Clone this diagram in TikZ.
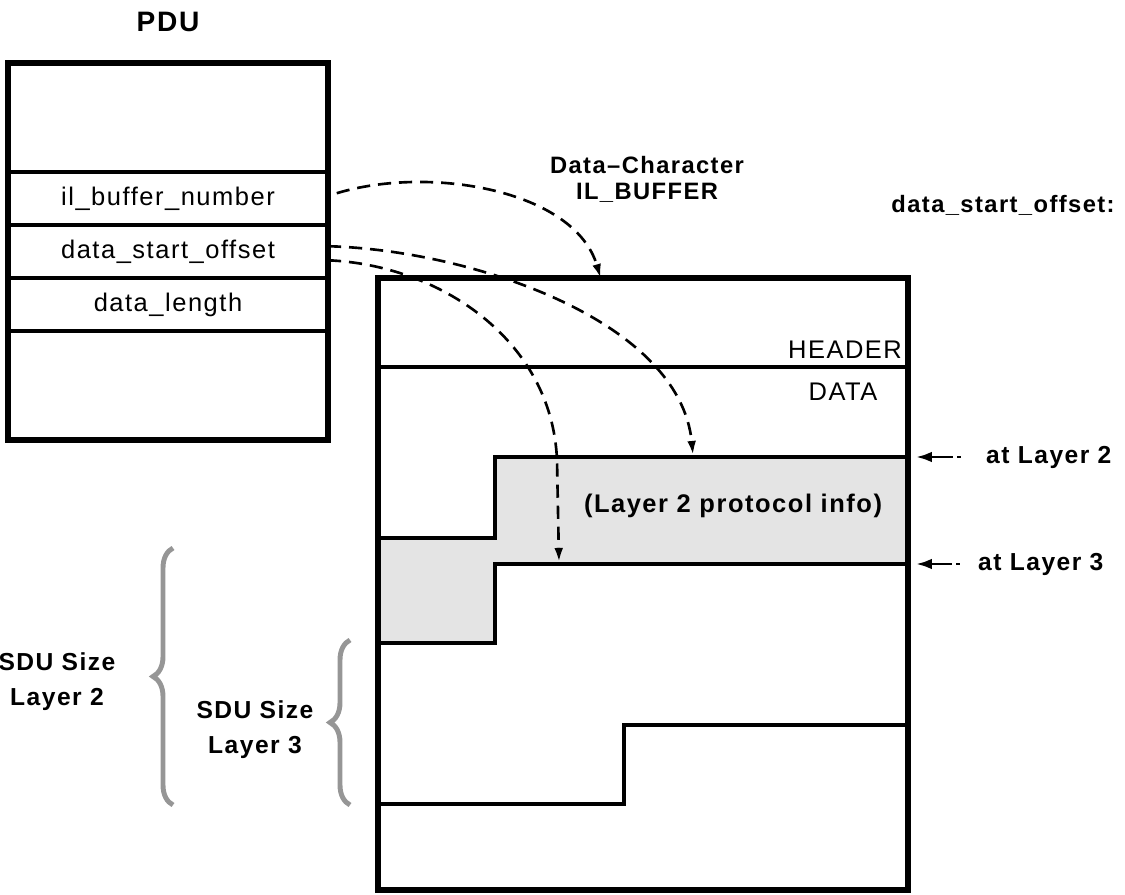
\documentclass[tikz,border=0pt]{standalone}
\usepackage{fontspec}
\setmainfont{Liberation Sans}[LetterSpace=6]
\usetikzlibrary{arrows.meta,positioning,calc,decorations.pathreplacing}
\definecolor{stipple}{HTML}{E4E4E4}
\definecolor{bracegray}{HTML}{969696}

\begin{document}
\begin{tikzpicture}[
  x=0.02cm, y=-0.02cm,
  >={Latex[length=8pt,width=5pt]},
  frame/.style={draw, line width=3.5pt, inner sep=0pt, outer sep=0pt},
  row/.style={draw, line width=2.3pt, minimum width=6.4cm, minimum height=1.06cm, inner sep=0pt, outer sep=0pt, font=\fontsize{14.5}{16}\selectfont},
  stepline/.style={line width=2.3pt},
  lbl/.style={font=\fontsize{14}{20}\selectfont\bfseries, align=center},
  plain/.style={font=\fontsize{14.5}{16}\selectfont},
  link/.style={->, dash pattern=on 7.5pt off 4.5pt, line width=1.5pt},
  tick/.style={-{Latex[length=9pt,width=6pt]}, dash pattern=on 2pt off 2.5pt on 20pt, line width=1.6pt, shorten <=11pt},
  sdubrace/.style={draw=bracegray, line width=2.8pt, decorate, decoration={brace, amplitude=0.4cm}}
]
\useasboundingbox (0,0) rectangle (1125,895);

% PDU
\node[font=\fontsize{16}{18}\selectfont\bfseries] (pdutitle) at (168,22) {PDU};
\node[row] (bufnum) at (168,198.5) {il\_buffer\_number};
\node[row, below=0pt of bufnum] (startoff) {data\_start\_offset};
\node[row, below=0pt of startoff] (datalen) {data\_length};
\node[frame, minimum width=6.4cm, minimum height=7.54cm] (pdu) at (168,251.5) {};

% IL_BUFFER
\fill[stipple] (378,538) -- (495,538) -- (495,457) -- (908,457) -- (908,564)
  -- (495,564) -- (495,643) -- (378,643) -- cycle;
\draw[stepline] (378,367) -- (908,367);
\draw[stepline] (378,538) -- (495,538) -- (495,457) -- (908,457);
\draw[stepline] (378,643) -- (495,643) -- (495,564) -- (908,564);
\draw[stepline] (378,804) -- (624,804) -- (624,725) -- (908,725);
\node[frame, minimum width=10.6cm, minimum height=12.24cm] (ilbuf) at (643,584) {};

\node[plain] (hdr) at (845,350) {HEADER};
\node[plain] (dat) at (843,392) {DATA};
\node[lbl, font=\fontsize{13.5}{14.8}\selectfont\bfseries] (buftitle) at (647,179) {Data--Character\\IL\_BUFFER};
\node[lbl, font=\fontsize{13.5}{14}\selectfont\bfseries] (offlabel) at (1003,205) {data\_start\_offset:};
\node[lbl, font=\fontsize{14.5}{16}\selectfont\bfseries] (proto) at (733,506) {(Layer 2 protocol info)};

% offsets at the right
\node[lbl, anchor=west] (at2) at (980,457) {at Layer 2};
\node[lbl, anchor=west] (at3) at (972,564) {at Layer 3};
\coordinate (edge2) at (916,457);
\coordinate (edge3) at (916,564);
\draw[tick] (at2) -- (edge2);
\draw[tick, shorten <=7pt] (at3) -- (edge3);

% SDU sizes
\node[lbl] (sdu2) at (57,682) {SDU Size\\Layer 2};
\node[lbl] (sdu3) at (255,730) {SDU Size\\Layer 3};
\draw[sdubrace] (173,805) -- (173,548);
\draw[sdubrace] (350,805) -- (350,640);

% pointers from the PDU
\coordinate (hit1) at ($(ilbuf.north west)!0.42!(ilbuf.north east)$);
\coordinate (hit2) at (693,455);
\coordinate (hit3) at (559,562);
\draw[link] ([xshift=5pt,yshift=3pt]bufnum.east) .. controls (430,165) and (575,190) .. (hit1);
\draw[link] ([yshift=3pt]startoff.east) .. controls (470,250) and (680,320) .. (hit2);
\draw[link] ([yshift=-5pt]startoff.east) .. controls (440,265) and (552,340) .. (557,460) -- (hit3);
\end{tikzpicture}
\end{document}
